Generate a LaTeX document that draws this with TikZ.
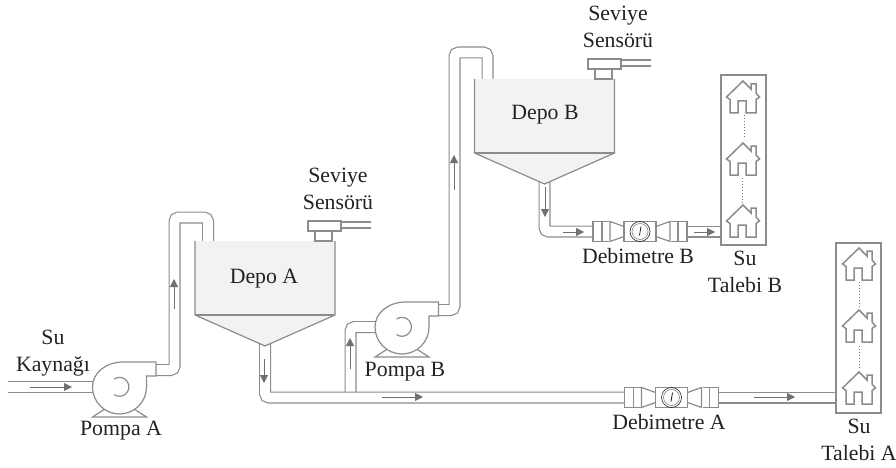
\documentclass[tikz,border=0pt]{standalone}
\usepackage{fontspec}
\setmainfont{Liberation Serif}
\usepackage{xcolor}
\usetikzlibrary{arrows.meta,positioning,calc,backgrounds}
\definecolor{pipegray}{HTML}{8C8C8C}
\definecolor{flowgray}{HTML}{707070}
\definecolor{tankfill}{HTML}{F2F2F2}
\definecolor{labelblack}{HTML}{222222}
\tikzset{
  pump/.pic={
    \draw[part] (-27,-30) -- (27,-30) -- (13,-21) -- (-13,-21) -- cycle;
    \draw[part, fill=white] (36.5,25) -- (4,25)
      .. controls (-14,25) and (-27,14) .. (-27,0)
      arc[start angle=180, end angle=360, radius=27pt]
      -- (27,11) -- (36.5,11) -- cycle;
    \draw[part] (-5.5,8) arc[start angle=125, end angle=-125, radius=9.5pt];
    \coordinate (-in) at (-24,0);
    \coordinate (-out) at (34,17);
  },
  tank/.pic={
    \fill[tankfill] (-70,0) -- (70,0) -- (70,-74) -- (0,-105) -- (-70,-74) -- cycle;
    \draw[part] (-70,0) -- (-70,-74) -- (0,-105) -- (70,-74) -- (70,0);
    \draw[part] (-70,-74) -- (70,-74);
    \coordinate (-in) at (-57,0);
    \coordinate (-out) at (0,-97);
  },
  sensor/.pic={
    \draw[part] (-15.5,20) rectangle (17.5,10);
    \draw[part] (-8.5,10) rectangle (8.5,0);
    \draw[part] (17.5,19) -- (47.5,19);
    \draw[part] (17.5,13) -- (47.5,13);
  },
  meter/.pic={
    \draw[part, fill=white] (-47,-10) rectangle (47,10);
    \fill[white] (-31,-11) rectangle (31,11);
    \draw[part] (-38,-10) -- (-38,10);
    \draw[part] (38,-10) -- (38,10);
    \draw[part] (-30,-10) -- (-30,10) -- (-16,5) (-30,-10) -- (-16,-5);
    \draw[part] (30,-10) -- (30,10) -- (16,5) (30,-10) -- (16,-5);
    \draw[part] (-16,-10) rectangle (16,10);
    \draw[labelblack, line width=0.6pt] (0,0) circle[radius=10pt];
    \draw[flowgray, line width=0.5pt] (0,0) circle[radius=8pt];
    \draw[labelblack, line width=0.8pt] (-0.5,-4) -- (1,5);
    \coordinate (-l) at (-46,0);
    \coordinate (-r) at (46,0);
  },
  house/.pic={
    \draw[part, line width=1.5pt, line join=miter] (0,32) -- (-16.5,16) -- (-13,13.5) -- (-13,0) -- (-5,0)
      -- (-5,12) -- (3,12) -- (3,0) -- (13,0) -- (13,13.5) -- (16.5,16)
      -- (13,20) -- (13,29) -- (8,29) -- (8,24) -- cycle;
  }
}
\begin{document}
\begin{tikzpicture}[
  x=1pt, y=1pt,
  part/.style={draw=pipegray, line width=1.2pt},
  pipe/.style={draw=pipegray, line width=1.2pt, double=white,
               double distance=9.6pt, rounded corners=4pt},
  flow/.style={-{Stealth[length=8pt, width=8pt, inset=0pt]}, draw=flowgray,
               fill=flowgray, line width=0.8pt},
  box/.style={draw=pipegray, line width=1.2pt, minimum width=45pt,
              minimum height=170pt, inner sep=0pt},
  lbl/.style={font=\fontsize{21.8}{27}\selectfont, text=labelblack,
              align=center, inner sep=0pt},
  dots/.style={draw=flowgray, line width=1pt, dash pattern=on 1pt off 2pt}
]
  \useasboundingbox (0,0) rectangle (896,-468);

  %% Demand boxes
  \node[box] (talebiB) at (743.5,-160) {};
  \node[box] (talebiA) at (858.5,-328) {};

  %% Pumps, meters and tanks
  \path (119.5,-387) pic (pumpA) {pump};
  \path (402,-327) pic (pumpB) {pump};
  \path (671.5,-397.5) pic (debA) {meter};
  \path (640,-231.5) pic (debB) {meter};
  \path (265,-241) pic (depoA) {tank};
  \path (544.5,-79) pic (depoB) {tank};
  \path (323.5,-241) pic (sensA) {sensor};
  \path (603.5,-79) pic (sensB) {sensor};

  %% Pipes, behind the symbols
  \coordinate (kaynak) at (8,-387);
  \coordinate (dal) at (350.5,-393);
  \begin{scope}[on background layer]
    \draw[pipe] (pumpB-in) -| (dal);
    \draw[pipe] (kaynak) -- (pumpA-in);
    \draw[pipe] (pumpA-out) -| (174.5,-217.5) -| (depoA-in);
    \draw[pipe] (pumpB-out) -| (454.5,-52.5) -| (depoB-in);
    \draw[pipe] (depoA-out) |- (debA-l);
    \draw[pipe] (depoB-out) |- (debB-l);
    \draw[pipe] (debA-r) -- (talebiA.west |- debA-r);
    \draw[pipe] (debB-r) -- (talebiB.west |- debB-r);
  \end{scope}

  %% Houses
  \foreach \hy in {-113,-175,-237} {
    \path (743,\hy) pic {house};
  }
  \foreach \hy in {-280,-342,-404} {
    \path (859,\hy) pic {house};
  }
  \draw[dots] (744,-115) -- (744,-139);
  \draw[dots] (742.5,-178) -- (742.5,-203);
  \draw[dots] (859.5,-282) -- (859.5,-307);
  \draw[dots] (859,-346) -- (859,-370);

  %% Flow arrows
  \draw[flow] (30,-387) -- (72,-387);
  \draw[flow] (174,-309) -- (174,-279);
  \draw[flow] (264,-359) -- (264,-383);
  \draw[flow] (350,-369) -- (350,-338);
  \draw[flow] (382,-397) -- (423,-397);
  \draw[flow] (754,-397) -- (795,-397);
  \draw[flow] (454,-190) -- (454,-155);
  \draw[flow] (545,-187) -- (545,-217);
  \draw[flow] (563,-232) -- (584,-232);
  \draw[flow] (694,-232) -- (715,-232);

  %% Labels
  \node[lbl] (kaynakL) at (53,-353) {Su\\Kaynağı};
  \node[lbl] (pompaAL) at (121,-431) {Pompa A};
  \node[lbl] (pompaBL) at (405,-372) {Pompa B};
  \node[lbl] (depoAL) at (264,-279) {Depo A};
  \node[lbl] (depoBL) at (545,-115) {Depo B};
  \node[lbl] (sensorAL) at (338,-189) {Seviye\\Sensörü};
  \node[lbl] (sensorBL) at (618,-27) {Seviye\\Sensörü};
  \node[lbl] (debAL) at (669,-422) {Debimetre A};
  \node[lbl] (debBL) at (638,-256) {Debimetre B};
  \node[lbl] (talebiBL) at (745,-272) {Su\\Talebi B};
  \node[lbl] (talebiAL) at (859,-440) {Su\\Talebi A};
\end{tikzpicture}
\end{document}
